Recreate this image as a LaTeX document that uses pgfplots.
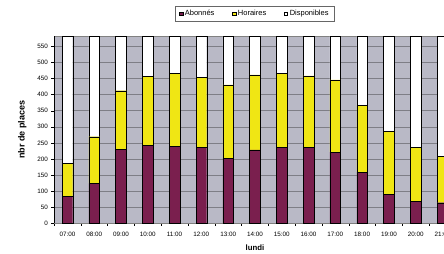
\documentclass[border=0pt]{standalone}
\usepackage{pgfplots}
\pgfplotsset{compat=1.18}
\usepackage{fontspec}
\setmainfont{Liberation Sans}
\definecolor{bg}{HTML}{B9B9C6}
\definecolor{abo}{HTML}{7A1F4E}
\definecolor{hor}{HTML}{F0E614}
\definecolor{grd}{HTML}{7E7E86}
\begin{document}
\begin{tikzpicture}
\begin{axis}[
  name=ax,
  scale only axis,
  width=401.9pt, height=187.3pt,
  ybar stacked, bar width=10.7pt,
  xmin=-0.5, xmax=14.5,
  ymin=0, ymax=582,
  xtick={0,...,14},
  xticklabels={07:00,08:00,09:00,10:00,11:00,12:00,13:00,14:00,15:00,16:00,17:00,18:00,19:00,20:00,21:00},
  minor xtick={-0.5,0.5,...,14.5},
  ytick={0,50,...,550},
  ymajorgrids, grid style={grd, line width=0.5pt},
  axis background/.style={fill=bg},
  axis line style={gray},
  tick align=outside, xtick pos=bottom, ytick pos=left,
  major x tick style={draw=none},
  minor x tick style={black, line width=0.3pt},
  minor tick length=2.5pt,
  major y tick style={black, line width=0.3pt},
  major tick length=2.5pt,
  /pgf/number format/assume math mode=true,
  ticklabel style={font=\fontsize{6.3}{7}\selectfont},
  xticklabel style={yshift=-3pt},
  ylabel={\textbf{nbr de places}}, ylabel style={font=\fontsize{9}{10}\selectfont, yshift=4pt},
  xlabel={\textbf{lundi}}, xlabel style={font=\fontsize{7.8}{9}\selectfont, yshift=-1pt},
  legend columns=3,
  legend style={at={(0.5,1)}, yshift=15pt, anchor=south, font=\fontsize{7.5}{9}\selectfont,
    draw=gray!80!black, inner xsep=4pt, inner ysep=2pt, /tikz/every even column/.append style={column sep=16pt}},
  legend image code/.code={\draw[#1, line width=0.3pt] (0pt,-1.6pt) rectangle (3.2pt,1.6pt);},
  every axis plot/.append style={draw=black, line width=0.4pt},
]
\addplot[fill=abo] coordinates {(0,83) (1,124) (2,230) (3,243) (4,240) (5,235) (6,202) (7,228) (8,236) (9,236) (10,221) (11,159) (12,91) (13,69) (14,64)};
\addplot[fill=hor] coordinates {(0,104) (1,145) (2,182) (3,213) (4,227) (5,218) (6,228) (7,233) (8,231) (9,222) (10,225) (11,207) (12,194) (13,166) (14,145)};
\addplot[fill=white] coordinates {(0,395) (1,313) (2,170) (3,126) (4,115) (5,129) (6,152) (7,121) (8,115) (9,124) (10,136) (11,216) (12,297) (13,347) (14,373)};
\legend{Abonnés, Horaires, Disponibles}
\draw[black, line width=0.5pt] (axis cs:-0.5,0) -- (axis cs:-0.5,582);
\end{axis}
\pgfresetboundingbox
\path[use as bounding box] ([xshift=-54pt,yshift=-30.7pt]ax.south west) rectangle ([xshift=-11.9pt,yshift=36pt]ax.north east);
\end{tikzpicture}
\end{document}
